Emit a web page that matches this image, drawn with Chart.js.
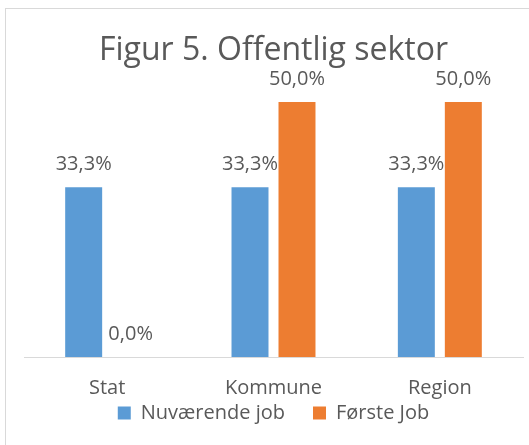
<!DOCTYPE html>
<html>
<head>
<meta charset="utf-8">
<script src="https://cdn.jsdelivr.net/npm/chart.js@4/dist/chart.umd.min.js"></script>
<style>
  html, body { margin: 0; padding: 0; background: #ffffff; overflow: hidden; }
  #wrap { position: relative; width: 529px; height: 445px; overflow: hidden; }
  #frame { position: absolute; left: 5px; top: 8px; width: 700px; height: 700px; border: 1px solid #d9d9d9; box-sizing: border-box; }
  canvas { position: absolute; left: 0; top: 0; }
</style>
</head>
<body>
<div id="wrap">
  <div id="frame"></div>
  <canvas id="c" width="529" height="445"></canvas>
</div>
<script>
const categories = ['Stat', 'Kommune', 'Region'];
const seriesNames = ['Nuværende job', 'Første Job'];
const nuvaerendeJob = [33.3, 33.3, 33.3];
const foersteJob = [0, 50, 50];
const chartTitle = 'Figur 5. Offentlig sektor';

const FONT = "'Open Sans', 'DejaVu Sans', sans-serif";
const TEXT = '#595959';

const dataLabels = {
  id: 'dataLabels',
  afterDatasetsDraw(chart) {
    const ctx = chart.ctx;
    ctx.save();
    ctx.font = '20px ' + FONT;
    ctx.fillStyle = TEXT;
    ctx.textAlign = 'center';
    ctx.textBaseline = 'alphabetic';
    chart.data.datasets.forEach((ds, di) => {
      const meta = chart.getDatasetMeta(di);
      meta.data.forEach((el, i) => {
        const v = ds.data[i];
        const txt = v.toFixed(1).replace('.', ',') + '%';
        ctx.fillText(txt, el.x, el.y - 17);
      });
    });
    ctx.restore();
  }
};

// move the legend up, closer to the category labels
const legendShift = {
  id: 'legendShift',
  afterLayout(chart) {
    const lg = chart.legend;
    if (lg) { lg.top -= 44; lg.height = lg.bottom - lg.top; }
  }
};

new Chart(document.getElementById('c'), {
  type: 'bar',
  data: {
    labels: categories,
    datasets: [
      { label: seriesNames[0], data: nuvaerendeJob, backgroundColor: '#5b9bd5', borderWidth: 0 },
      { label: seriesNames[1], data: foersteJob, backgroundColor: '#ed7d31', borderWidth: 0 }
    ]
  },
  options: {
    responsive: false,
    animation: false,
    devicePixelRatio: 1,
    categoryPercentage: 0.565,
    barPercentage: 0.787,
    layout: { padding: { left: 24, right: 6, top: 0, bottom: 0 } },
    plugins: {
      title: {
        display: true,
        text: chartTitle,
        color: TEXT,
        font: { family: FONT, size: 32, weight: 'normal' },
        padding: { top: 32, bottom: 6.1 }
      },
      legend: {
        display: true,
        position: 'bottom',
        maxHeight: 26,
        labels: {
          color: TEXT,
          font: { family: FONT, size: 20 },
          boxWidth: 13,
          boxHeight: 13,
          padding: 28
        }
      },
      tooltip: { enabled: false }
    },
    scales: {
      x: {
        grid: { display: false, drawTicks: false },
        border: { display: true, color: '#d9d9d9', width: 1 },
        ticks: { color: TEXT, font: { family: FONT, size: 20, lineHeight: 1.2 }, padding: 19 }
      },
      y: {
        display: false,
        min: 0,
        max: 55
      }
    }
  },
  plugins: [dataLabels, legendShift]
});
</script>
</body>
</html>
